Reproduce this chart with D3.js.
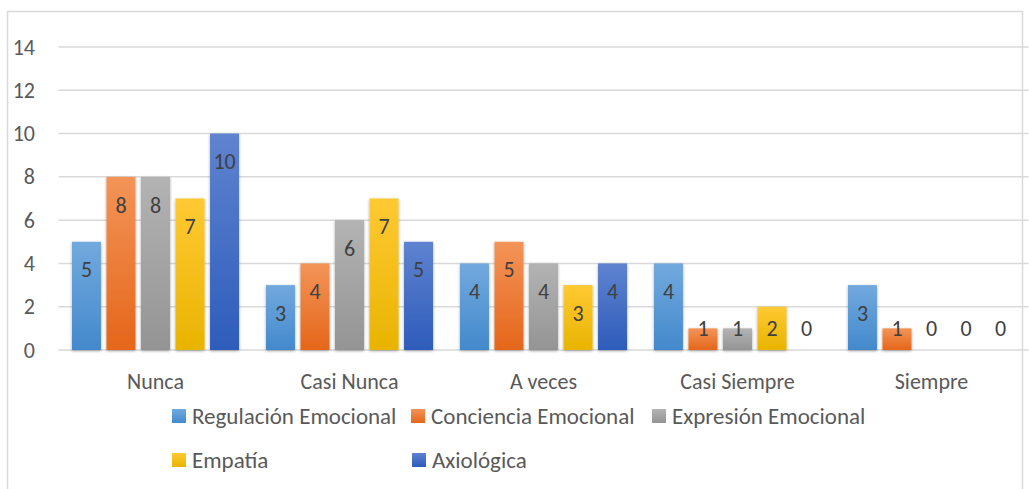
<!DOCTYPE html>
<html>
<head>
<meta charset="utf-8">
<script src="https://cdn.jsdelivr.net/npm/d3@7"></script>
<style>
  body { margin: 0; background: #fff; }
  svg text { font-family: Carlito, Calibri, Lato, sans-serif; }
</style>
</head>
<body>
<div id="chart"></div>
<script>
var categories = ["Nunca", "Casi Nunca", "A veces", "Casi Siempre", "Siempre"];
var series = ["Regulación Emocional", "Conciencia Emocional", "Expresión Emocional", "Empatía", "Axiológica"];
var regulacion = [5, 3, 4, 4, 3];
var conciencia = [8, 4, 5, 1, 1];
var expresion = [8, 6, 4, 1, 0];
var empatia = [7, 7, 3, 2, 0];
var axiologica = [10, 5, 4, 0, 0];
var yTicks = [0, 2, 4, 6, 8, 10, 12, 14];
var seriesValues = [regulacion, conciencia, expresion, empatia, axiologica];
var colorTop = ["#72a9de", "#f39458", "#b3b3b3", "#ffc933", "#5f83d0"];
var colorBottom = ["#4389cc", "#e5661a", "#949494", "#e8b400", "#2e5cbb"];

var width = 1029, height = 489;
var margin = {left: 58.5, right: 0.5, top: 47, bottom: 139};

var svg = d3.select("#chart").append("svg")
  .attr("width", width)
  .attr("height", height);

var defs = svg.append("defs");
series.forEach(function(s, i) {
  var grad = defs.append("linearGradient")
    .attr("id", "grad" + i)
    .attr("x1", 0).attr("y1", 0).attr("x2", 0).attr("y2", 1);
  grad.append("stop").attr("offset", "0%").attr("stop-color", colorTop[i]);
  grad.append("stop").attr("offset", "100%").attr("stop-color", colorBottom[i]);
});
var shadow = defs.append("filter").attr("id", "shadow")
  .attr("x", "-30%").attr("y", "-10%").attr("width", "160%").attr("height", "130%");
shadow.append("feDropShadow")
  .attr("dx", 0).attr("dy", 1).attr("stdDeviation", 1.6)
  .attr("flood-color", "#000").attr("flood-opacity", 0.35);

// chart frame
svg.append("rect")
  .attr("x", 7.5).attr("y", 11.5)
  .attr("width", 1015).attr("height", 500)
  .attr("fill", "none")
  .attr("stroke", "#d9d9d9")
  .attr("stroke-width", 1.5);

var x0 = d3.scaleBand()
  .domain(categories)
  .range([margin.left, width - margin.right]);

var x1 = d3.scaleBand()
  .domain(d3.range(series.length))
  .range([0, x0.bandwidth()])
  .paddingInner(0.16)
  .paddingOuter(0.39);

var y = d3.scaleLinear()
  .domain([0, 14])
  .range([height - margin.bottom, margin.top]);

// gridlines
svg.append("g").selectAll("line")
  .data(yTicks)
  .enter().append("line")
  .attr("x1", margin.left)
  .attr("x2", width - margin.right)
  .attr("y1", function(d) { return y(d); })
  .attr("y2", function(d) { return y(d); })
  .attr("stroke", "#d9d9d9")
  .attr("stroke-width", 1.5);

// y tick labels
var yAxis = d3.axisLeft(y).tickValues(yTicks).tickSize(0).tickPadding(0);
var yAxisGroup = svg.append("g")
  .attr("transform", "translate(35,0)")
  .attr("font-size", null)
  .call(yAxis);
yAxisGroup.select(".domain").remove();
yAxisGroup.selectAll("text")
  .attr("font-size", "22px")
  .attr("fill", "#595959");

// category labels
var xAxis = d3.axisBottom(x0).tickSize(0).tickPadding(0);
var xAxisGroup = svg.append("g")
  .attr("transform", "translate(0," + (y(0) + 31) + ")")
  .call(xAxis);
xAxisGroup.select(".domain").remove();
xAxisGroup.selectAll("text")
  .attr("font-size", "22px")
  .attr("fill", "#595959")
  .attr("dy", "0.35em");

// bars
var groups = svg.append("g").selectAll("g")
  .data(categories)
  .enter().append("g")
  .attr("transform", function(d) { return "translate(" + x0(d) + ",0)"; });

groups.selectAll("rect")
  .data(function(d, ci) { return seriesValues.map(function(vals, si) { return {s: si, v: vals[ci]}; }); })
  .enter().append("rect")
  .filter(function(d) { return d.v > 0; })
  .attr("x", function(d) { return x1(d.s); })
  .attr("y", function(d) { return y(d.v); })
  .attr("width", x1.bandwidth())
  .attr("height", function(d) { return y(0) - y(d.v); })
  .attr("fill", function(d) { return "url(#grad" + d.s + ")"; })
  .attr("filter", "url(#shadow)");

groups.selectAll("text.val")
  .data(function(d, ci) { return seriesValues.map(function(vals, si) { return {s: si, v: vals[ci]}; }); })
  .enter().append("text")
  .attr("class", "val")
  .attr("x", function(d) { return x1(d.s) + x1.bandwidth() / 2; })
  .attr("y", function(d) { return Math.min(y(d.v) + 28, y(1)); })
  .attr("dy", "0.35em")
  .attr("text-anchor", "middle")
  .attr("font-size", "22px")
  .attr("fill", "#404040")
  .text(function(d) { return d.v; });

// legend
var legendPos = [[172, 416], [411, 416], [652, 416], [172, 460], [412, 460]];
var legend = svg.append("g").selectAll("g")
  .data(series)
  .enter().append("g")
  .attr("transform", function(d, i) { return "translate(" + legendPos[i][0] + "," + legendPos[i][1] + ")"; });

legend.append("rect")
  .attr("x", 0).attr("y", -7)
  .attr("width", 14).attr("height", 14)
  .attr("fill", function(d, i) { return "url(#grad" + i + ")"; });

legend.append("text")
  .attr("x", 20)
  .attr("dy", "0.35em")
  .attr("font-size", "23px")
  .attr("fill", "#595959")
  .text(function(d) { return d; });
</script>
</body>
</html>
